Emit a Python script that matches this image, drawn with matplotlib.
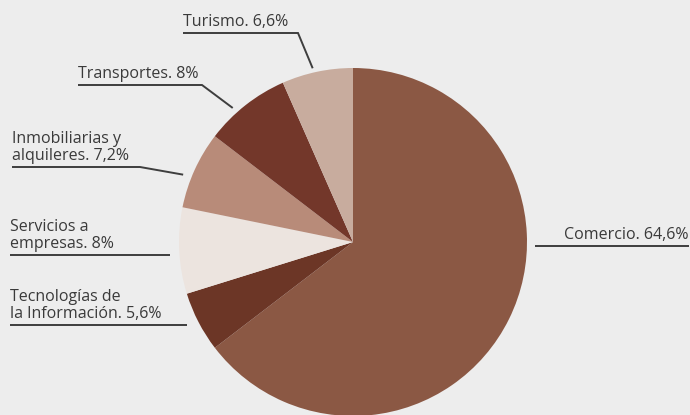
import numpy as np
import matplotlib.pyplot as plt

# sectores (sentido horario desde las 12)
sectores = ['Comercio', 'Tecnologías de\nla Información', 'Servicios a\nempresas',
            'Inmobiliarias y\nalquileres', 'Transportes', 'Turismo']
porcentajes = [64.6, 5.6, 8.0, 7.2, 8.0, 6.6]
colores = ['#8b5844', '#6c3626', '#ece4df', '#b88b79', '#73372a', '#c8ac9e']

W, H = 690, 415
FONDO = '#ededed'
TEXTO = '#3a3a3a'
LINEA = '#3e3e3e'

plt.rcParams['font.family'] = ['Open Sans', 'DejaVu Sans']

fig = plt.figure(figsize=(W / 100, H / 100), dpi=100, facecolor=FONDO)
ax = fig.add_axes([0, 0, 1, 1])
ax.set_facecolor(FONDO)

cx, cy, r = 353, H - 242, 174
wedges, _ = ax.pie(porcentajes, colors=colores, startangle=90, counterclock=False,
                   center=(cx, cy), radius=r, wedgeprops=dict(linewidth=0))
ax.set_xlim(0, W)
ax.set_ylim(0, H)
ax.set_aspect('equal')
ax.axis('off')


def fmt(v):
    s = ('%.1f' % v).replace('.', ',')
    return s[:-2] if s.endswith(',0') else s


def ancla(w, frac, rr):
    # punto junto al borde de la porción, a una fracción de su arco
    a = np.radians(w.theta1 + (w.theta2 - w.theta1) * frac)
    return cx + rr * r * np.cos(a), cy + rr * r * np.sin(a)


# posición de cada etiqueta: x del texto, y del subrayado, fin del subrayado,
# y punto de la porción al que apunta (None = sólo subrayado)
etiquetas = {
    'Turismo': (183, 33, 298, (0.55, 1.025)),
    'Transportes': (78, 85, 202, (0.63, 1.035)),
    'Inmobiliarias y\nalquileres': (12, 167, 140, (0.61, 1.05)),
    'Servicios a\nempresas': (10, 255, 170, None),
    'Tecnologías de\nla Información': (10, 325, 187, None),
    'Comercio': (557, 246, 689, None),
}

for w, nombre, v in zip(wedges, sectores, porcentajes):
    x0, yl, x1, punta = etiquetas[nombre]
    y = H - yl
    rotulo = '%s. %s%%' % (nombre, fmt(v))
    if nombre == 'Comercio':
        ax.text(x1, y + 3, rotulo, ha='right', va='bottom',
                fontsize=11.5, color=TEXTO, linespacing=1.05)
        ax.plot([535, x1], [y, y], color=LINEA, lw=1.4, solid_capstyle='butt')
        continue
    ax.text(x0, y + 3, rotulo, ha='left', va='bottom',
            fontsize=11.5, color=TEXTO, linespacing=1.05)
    xs, ys = [x0, x1], [y, y]
    if punta is not None:
        px, py = ancla(w, *punta)
        xs.append(px)
        ys.append(py)
    ax.plot(xs, ys, color=LINEA, lw=1.4, solid_capstyle='butt', solid_joinstyle='miter')

fig.savefig('out.png', dpi=100, facecolor=FONDO)
